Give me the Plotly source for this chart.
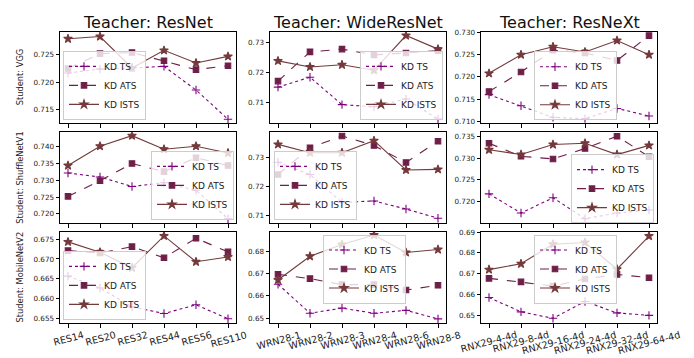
import plotly.graph_objects as go

W, H = 694, 358

teachers = ["Teacher: ResNet", "Teacher: WideResNet", "Teacher: ResNeXt"]
students = ["Student: VGG", "Student: ShuffleNetV1", "Student: MobileNetV2"]

resnet_labels = ["RES14", "RES20", "RES32", "RES44", "RES56", "RES110"]
wrn_labels = ["WRN28-1", "WRN28-2", "WRN28-3", "WRN28-4", "WRN28-6", "WRN28-8"]
rnx_labels = ["RNX29-4-4d", "RNX29-8-4d", "RNX29-16-4d", "RNX29-24-4d", "RNX29-32-4d", "RNX29-64-4d"]

# Student VGG
vgg_resnet_ts = [0.7217, 0.7224, 0.7226, 0.7229, 0.7186, 0.7133]
vgg_resnet_ats = [0.7225, 0.7252, 0.7254, 0.7239, 0.7223, 0.7230]
vgg_resnet_ists = [0.7279, 0.7283, 0.7226, 0.7258, 0.7235, 0.7247]
vgg_wrn_ts = [0.7151, 0.7184, 0.7093, 0.7086, 0.7112, 0.7045]
vgg_wrn_ats = [0.7171, 0.7268, 0.7277, 0.7258, 0.7264, 0.7272]
vgg_wrn_ists = [0.7238, 0.7218, 0.7225, 0.7207, 0.7322, 0.7277]
vgg_rnx_ts = [0.7160, 0.7135, 0.7109, 0.7106, 0.7129, 0.7112]
vgg_rnx_ats = [0.7167, 0.7211, 0.7260, 0.7254, 0.7237, 0.7293]
vgg_rnx_ists = [0.7208, 0.7250, 0.7268, 0.7256, 0.7282, 0.7250]

# Student ShuffleNetV1
shf_resnet_ts = [0.7321, 0.7309, 0.7281, 0.7292, 0.7270, 0.7186]
shf_resnet_ats = [0.7252, 0.7298, 0.7349, 0.7325, 0.7366, 0.7343]
shf_resnet_ists = [0.7343, 0.7400, 0.7431, 0.7391, 0.7400, 0.7380]
shf_wrn_ts = [0.7285, 0.7242, 0.7145, 0.7150, 0.7122, 0.7090]
shf_wrn_ats = [0.7242, 0.7335, 0.7376, 0.7343, 0.7284, 0.7358]
shf_wrn_ists = [0.7347, 0.7318, 0.7318, 0.7360, 0.7258, 0.7260]
shf_rnx_ts = [0.7218, 0.7174, 0.7209, 0.7161, 0.7174, 0.7181]
shf_rnx_ats = [0.7334, 0.7304, 0.7298, 0.7322, 0.7350, 0.7303]
shf_rnx_ists = [0.7319, 0.7308, 0.7331, 0.7334, 0.7308, 0.7329]

# Student MobileNetV2
mob_resnet_ts = [0.6657, 0.6627, 0.6580, 0.6563, 0.6585, 0.6550]
mob_resnet_ats = [0.6721, 0.6715, 0.6731, 0.6703, 0.6752, 0.6718]
mob_resnet_ists = [0.6743, 0.6717, 0.6678, 0.6758, 0.6693, 0.6705]
mob_wrn_ts = [0.6652, 0.6522, 0.6545, 0.6522, 0.6535, 0.6497]
mob_wrn_ats = [0.6696, 0.6677, 0.6650, 0.6650, 0.6626, 0.6647]
mob_wrn_ists = [0.6671, 0.6777, 0.6830, 0.6872, 0.6794, 0.6807]
mob_rnx_ts = [0.6586, 0.6517, 0.6486, 0.6567, 0.6512, 0.6500]
mob_rnx_ats = [0.6678, 0.6661, 0.6641, 0.6675, 0.6697, 0.6681]
mob_rnx_ists = [0.6720, 0.6748, 0.6842, 0.6850, 0.6722, 0.6881]

panels = [
    [(vgg_resnet_ts, vgg_resnet_ats, vgg_resnet_ists),
     (vgg_wrn_ts, vgg_wrn_ats, vgg_wrn_ists),
     (vgg_rnx_ts, vgg_rnx_ats, vgg_rnx_ists)],
    [(shf_resnet_ts, shf_resnet_ats, shf_resnet_ists),
     (shf_wrn_ts, shf_wrn_ats, shf_wrn_ists),
     (shf_rnx_ts, shf_rnx_ats, shf_rnx_ists)],
    [(mob_resnet_ts, mob_resnet_ats, mob_resnet_ists),
     (mob_wrn_ts, mob_wrn_ats, mob_wrn_ists),
     (mob_rnx_ts, mob_rnx_ats, mob_rnx_ists)],
]
col_labels = [resnet_labels, wrn_labels, rnx_labels]

y_ranges = [
    [(0.7126, 0.7292), (0.7032, 0.7335), (0.7096, 0.7302)],
    [(0.7173, 0.7441), (0.7073, 0.7389), (0.7151, 0.7359)],
    [(0.6539, 0.6768), (0.6478, 0.6886), (0.6463, 0.6901)],
]
y_ticks = [
    [[0.715, 0.720, 0.725], [0.71, 0.72, 0.73], [0.710, 0.715, 0.720, 0.725, 0.730]],
    [[0.720, 0.725, 0.730, 0.735, 0.740], [0.71, 0.72, 0.73], [0.720, 0.725, 0.730, 0.735]],
    [[0.655, 0.660, 0.665, 0.670, 0.675], [0.65, 0.66, 0.67, 0.68], [0.65, 0.66, 0.67, 0.68, 0.69]],
]
y_fmt = [[".3f", ".2f", ".3f"], [".3f", ".2f", ".3f"], [".3f", ".2f", ".2f"]]

series_names = ["KD TS", "KD ATS", "KD ISTS"]
series_colors = ["#800080", "#6e1f48", "#74393b"]
series_dash = ["dot", "dash", "solid"]
series_symbol = ["cross-thin", "square", "star"]
series_size = [6, 5.5, 6.5]

FONT = "DejaVu Sans"

col_px = [(52, 228), (262, 438), (473, 649)]
row_px = [(20, 113.3), (122.7, 215.3), (224.3, 317.3)]

# legend placement (px): (x, y, xanchor, yanchor)
legend_px = [
    [(55, 110, "left", "bottom"), (435, 110, "right", "bottom"), (526, 40, "left", "top")],
    [(226, 212, "right", "bottom"), (266, 212, "left", "bottom"), (646, 145, "right", "top")],
    [(55, 314, "left", "bottom"), (315, 227, "left", "top"), (526, 227, "left", "top")],
]

fig = go.Figure()
layout = dict(
    width=W, height=H, margin=dict(l=0, r=0, t=0, b=0),
    paper_bgcolor="white", plot_bgcolor="white",
    font=dict(family=FONT, color="#222"),
    annotations=[],
)

xpos = list(range(6))
for r in range(3):
    for c in range(3):
        idx = r * 3 + c + 1
        suffix = "" if idx == 1 else str(idx)
        xa, ya = "x" + suffix, "y" + suffix
        leg = "legend" + suffix
        for s in range(3):
            fig.add_trace(go.Scatter(
                x=xpos, y=panels[r][c][s], name=series_names[s], mode="lines+markers",
                line=dict(color=series_colors[s], dash=series_dash[s], width=1.1),
                marker=dict(symbol=series_symbol[s], size=series_size[s], color=series_colors[s],
                            line=dict(color=series_colors[s], width=1.1)),
                xaxis=xa, yaxis=ya, legend=leg, showlegend=True,
            ))
        x0, x1 = col_px[c]
        t0, t1 = row_px[r]
        layout["xaxis" + suffix] = dict(
            domain=[x0 / W, x1 / W], anchor=ya, range=[-0.25, 5.25],
            tickvals=xpos, showticklabels=False, ticks="outside", ticklen=3.5,
            tickcolor="black", showline=True, linecolor="black", linewidth=1,
            mirror=True, showgrid=False, zeroline=False,
        )
        layout["yaxis" + suffix] = dict(
            domain=[1 - t1 / H, 1 - t0 / H], anchor=xa, range=list(y_ranges[r][c]),
            tickvals=y_ticks[r][c], tickformat=y_fmt[r][c], ticks="outside", ticklen=3.5,
            tickcolor="black", tickfont=dict(size=7.2, family=FONT, color="#222"),
            showline=True, linecolor="black", linewidth=1, mirror=True,
            showgrid=False, zeroline=False,
        )
        lx, ly, xan, yan = legend_px[r][c]
        layout[leg] = dict(
            x=lx / W, y=1 - ly / H, xanchor=xan, yanchor=yan, xref="paper", yref="paper",
            bgcolor="rgba(255,255,255,0.8)", bordercolor="#cccccc", borderwidth=1,
            font=dict(size=9, family=FONT, color="#222"),
            itemwidth=30, tracegroupgap=0,
        )
        if r == 2:
            for i, lab in enumerate(col_labels[c]):
                layout["annotations"].append(dict(
                    x=i, y=1 - 322 / H, xref=xa, yref="paper",
                    text=lab, showarrow=False, textangle=-15,
                    xanchor="center", yanchor="top", borderpad=0,
                    font=dict(size=9.6, family=FONT, color="#222"),
                ))

for c in range(3):
    x0, x1 = col_px[c]
    layout["annotations"].append(dict(
        x=(x0 + x1) / 2 / W, y=1 - 11 / H, xref="paper", yref="paper",
        text=teachers[c], showarrow=False, xanchor="center", yanchor="middle",
        font=dict(size=16, family=FONT, color="#111"),
    ))
for r in range(3):
    t0, t1 = row_px[r]
    layout["annotations"].append(dict(
        x=12 / W, y=1 - (t0 + t1) / 2 / H, xref="paper", yref="paper",
        text=students[r], showarrow=False, textangle=-90,
        xanchor="center", yanchor="middle",
        font=dict(size=8.3, family=FONT, color="#222"),
    ))

fig.update_layout(**layout)
fig.write_html("out.html")
